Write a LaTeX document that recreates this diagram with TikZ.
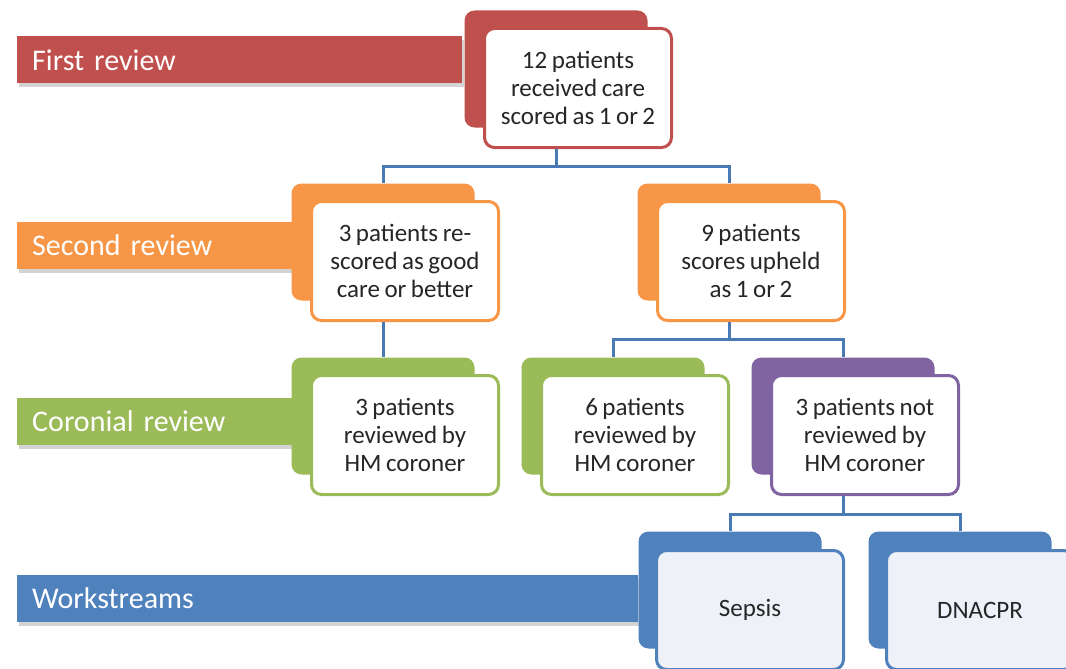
\documentclass[tikz,border=0pt]{standalone}
\usepackage{fontspec}
\setmainfont{Carlito}[WordSpace=0.8]
\usepackage{tikz}
\usetikzlibrary{shadows}

\definecolor{revred}{HTML}{C0504D}
\definecolor{revorange}{HTML}{F79646}
\definecolor{revgreen}{HTML}{9BBB59}
\definecolor{revpurple}{HTML}{8064A2}
\definecolor{revblue}{HTML}{4F81BD}
\definecolor{linkblue}{HTML}{4A7AB4}
\definecolor{paleblue}{HTML}{EEF2F8}
\definecolor{boxtext}{HTML}{262626}

\tikzset{
	band/.style={fill=#1, text=white, anchor=west, inner xsep=15pt, inner ysep=0pt,
		minimum height=47pt, align=left, font=\fontsize{30}{34}\selectfont,
		drop shadow={shadow xshift=2pt, shadow yshift=-4pt, opacity=0.35, fill=gray}},
	tab/.style={fill=#1, rounded corners=10pt, minimum width=183pt, minimum height=117pt},
	card/.style={draw=#1, fill=white, line width=3pt, rounded corners=10pt,
		minimum width=187pt, minimum height=119pt, align=center, text=boxtext,
		font=\fontsize{25}{28}\selectfont},
	link/.style={draw=linkblue, line width=3pt}
}

\begin{document}
\begin{tikzpicture}[x=1pt, y=-1pt]
				\useasboundingbox (0,0) rectangle (1066,669);
				% Paths, nodes and wires:
				\node[band=revred, text width=415pt] (first) at (17,60) {First review};
				\node[band=revorange, text width=245pt] (second) at (17,245) {Second review};
				\node[band=revgreen, text width=245pt] (coronial) at (17,421) {Coronial review};
				\node[band=revblue, text width=591pt] (streams) at (17,598) {Workstreams};
				\node[tab=revred] (t1) at (556,69) {};
				\node[card=revred] (c1) at ([shift={(22,19)}]t1.center) {12 patients\\received care\\scored as 1 or 2};
				\node[tab=revorange] (t2a) at (383,242) {};
				\node[card=revorange] (c2a) at ([shift={(22,19)}]t2a.center) {3 patients re-\\scored as good\\care or better};
				\node[tab=revorange] (t2b) at (729,242) {};
				\node[card=revorange] (c2b) at ([shift={(22,19)}]t2b.center) {9 patients\\scores upheld\\as 1 or 2};
				\node[tab=revgreen] (t3a) at (383,416) {};
				\node[card=revgreen] (c3a) at ([shift={(22,19)}]t3a.center) {3 patients\\reviewed by\\HM coroner};
				\node[tab=revgreen] (t3b) at (613,416) {};
				\node[card=revgreen] (c3b) at ([shift={(22,19)}]t3b.center) {6 patients\\reviewed by\\HM coroner};
				\node[tab=revpurple] (t3c) at (843,416) {};
				\node[card=revpurple] (c3c) at ([shift={(22,19)}]t3c.center) {3 patients not\\reviewed by\\HM coroner};
				\node[tab=revblue] (t4a) at (730,590) {};
				\node[card=revblue, fill=paleblue] (c4a) at ([shift={(20,20)}]t4a.center) {Sepsis};
				\node[tab=revblue] (t4b) at (960,590) {};
				\node[card=revblue, fill=paleblue] (c4b) at ([shift={(20,20)}]t4b.center) {DNACPR};
				\draw[link] (t1.center |- c1.south) -- ++(0,17) -| (t2a.north);
				\draw[link] (t1.center |- c1.south) -- ++(0,17) -| (t2b.north);
				\draw[link] (t2a.center |- c2a.south) -- (t3a.north);
				\draw[link] (t2b.center |- c2b.south) -- ++(0,17) -| (t3b.north);
				\draw[link] (t2b.center |- c2b.south) -- ++(0,17) -| (t3c.north);
				\draw[link] (t3c.center |- c3c.south) -- ++(0,18) -| (t4a.north);
				\draw[link] (t3c.center |- c3c.south) -- ++(0,18) -| (t4b.north);
			\end{tikzpicture}
\end{document}
